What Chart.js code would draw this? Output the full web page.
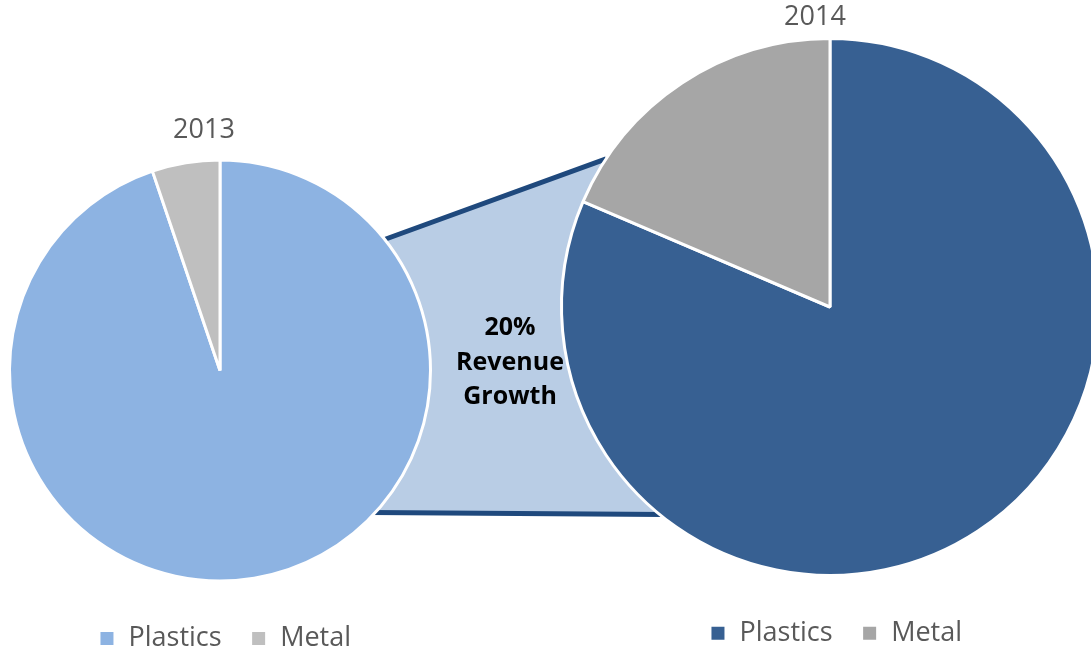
<!DOCTYPE html>
<html>
<head>
<meta charset="utf-8">
<title>Revenue 2013 x 2014</title>
<script src="https://cdn.jsdelivr.net/npm/chart.js@4.4.1/dist/chart.umd.min.js"></script>
<style>
  html, body { margin: 0; padding: 0; background: #ffffff; overflow: hidden; }
  #palco { position: relative; width: 1091px; height: 655px; overflow: hidden; }
  #palco canvas { position: absolute; left: 0; top: 0; }
</style>
</head>
<body>
<div id="palco">
  <canvas id="grafico2014" width="1110" height="655"></canvas>
  <canvas id="grafico2013" width="440" height="655"></canvas>
</div>
<script>
// Dados dos dois anos
const categorias = ['Plastics', 'Metal'];
const anos = ['2013', '2014'];
const valores2013 = [94.8, 5.2];
const valores2014 = [97.7, 22.3];
const textoCrescimento = ['20%', 'Revenue', 'Growth'];

const cinzaTexto = '#595959';
const fonte = "'Open Sans', sans-serif";

/**
 * Desloca o título e a legenda depois do layout, sem alterar a área do gráfico
 * (o centro e o raio da pizza ficam onde foram definidos).
 */
const ajusteCaixas = {
    id: 'ajusteCaixas',
    afterLayout(chart, args, opts) {
        const mover = (caixa, d) => {
            if (!caixa || !d) return;
            caixa.left += d.dx || 0;
            caixa.right += d.dx || 0;
            caixa.top += d.dy || 0;
            caixa.bottom += d.dy || 0;
        };
        mover(chart.titleBlock, opts.titulo);
        mover(chart.legend, opts.legenda);
    }
};

// Ponto na borda de uma fatia, em graus, com folga no raio
function pontoNoArco(arco, graus, folga) {
    const r = arco.outerRadius + folga;
    const a = graus * Math.PI / 180;
    return [arco.x + r * Math.cos(a), arco.y + r * Math.sin(a)];
}

// Legenda no rodapé, igual nas duas pizzas
function opcoesLegenda() {
    return {
        position: 'bottom',
        labels: {
            color: cinzaTexto,
            font: { family: fonte, size: 27 },
            boxWidth: 16,
            boxHeight: 16,
            padding: 29
        }
    };
}

// 1. Pizza de 2013 (menor, à esquerda)
const grafico2013 = new Chart(document.getElementById('grafico2013'), {
    type: 'pie',
    data: {
        labels: categorias,
        datasets: [{
            data: valores2013,
            backgroundColor: ['#8db3e2', '#bfbfbf'],
            borderColor: '#ffffff',
            borderWidth: 3,
            radius: 210.5,
            clip: false
        }]
    },
    options: {
        responsive: false,
        animation: false,
        events: [],
        layout: { padding: { top: 119.6, bottom: 0, left: 0, right: 0 } },
        plugins: {
            title: {
                display: true,
                text: anos[0],
                color: cinzaTexto,
                font: { family: fonte, size: 27, weight: 'normal' },
                padding: 0
            },
            legend: opcoesLegenda(),
            tooltip: { enabled: false },
            ajusteCaixas: { titulo: { dx: -16, dy: -5.8 }, legenda: { dx: 5, dy: 7 } }
        }
    },
    plugins: [ajusteCaixas]
});

/**
 * Faixa que liga as duas pizzas, com o texto de crescimento.
 * Desenhada antes das fatias de 2014, por baixo das duas pizzas.
 */
const conector = {
    id: 'conector',
    beforeDatasetsDraw(chart) {
        const esq = grafico2013.getDatasetMeta(0).data[0];
        const dir = chart.getDatasetMeta(0).data[0];
        if (!esq || !dir) return;

        const p1 = pontoNoArco(esq, -38.8, -3);
        const p2 = pontoNoArco(dir, 213.5, 0);
        const p3 = pontoNoArco(dir, 128.6, -3);
        const p4 = pontoNoArco(esq, 43.2, -3);

        const ctx = chart.ctx;
        ctx.save();
        ctx.beginPath();
        ctx.moveTo(p1[0], p1[1]);
        ctx.lineTo(p2[0], p2[1]);
        ctx.lineTo(p3[0], p3[1]);
        ctx.lineTo(p4[0], p4[1]);
        ctx.closePath();
        ctx.fillStyle = '#b9cde5';
        ctx.fill();

        // só as bordas de cima e de baixo têm linha
        ctx.strokeStyle = '#1f497d';
        ctx.lineWidth = 5;
        ctx.lineCap = 'butt';
        ctx.beginPath();
        ctx.moveTo(p1[0], p1[1]);
        ctx.lineTo(p2[0], p2[1]);
        ctx.moveTo(p4[0], p4[1]);
        ctx.lineTo(p3[0], p3[1]);
        ctx.stroke();

        ctx.fillStyle = '#000000';
        ctx.font = "bold 25px 'Open Sans', sans-serif";
        ctx.textAlign = 'center';
        ctx.textBaseline = 'middle';
        textoCrescimento.forEach((linha, i) => {
            ctx.fillText(linha, 510, 328 + i * 34.5);
        });
        ctx.restore();
    }
};

// 2. Pizza de 2014 (maior, à direita, cortada na borda)
const grafico2014 = new Chart(document.getElementById('grafico2014'), {
    type: 'pie',
    data: {
        labels: categorias,
        datasets: [{
            data: valores2014,
            backgroundColor: ['#376092', '#a6a6a6'],
            borderColor: '#ffffff',
            borderWidth: 3,
            radius: 268.5,
            clip: false
        }]
    },
    options: {
        responsive: false,
        animation: false,
        events: [],
        layout: { padding: { top: 0, bottom: 7.4, left: 561, right: 11 } },
        plugins: {
            title: {
                display: true,
                text: anos[1],
                color: cinzaTexto,
                font: { family: fonte, size: 27, weight: 'normal' },
                padding: 0
            },
            legend: opcoesLegenda(),
            tooltip: { enabled: false },
            ajusteCaixas: { titulo: { dx: -15, dy: 0.8 }, legenda: { dx: 6, dy: 9.2 } }
        }
    },
    plugins: [ajusteCaixas, conector]
});
</script>
</body>
</html>
